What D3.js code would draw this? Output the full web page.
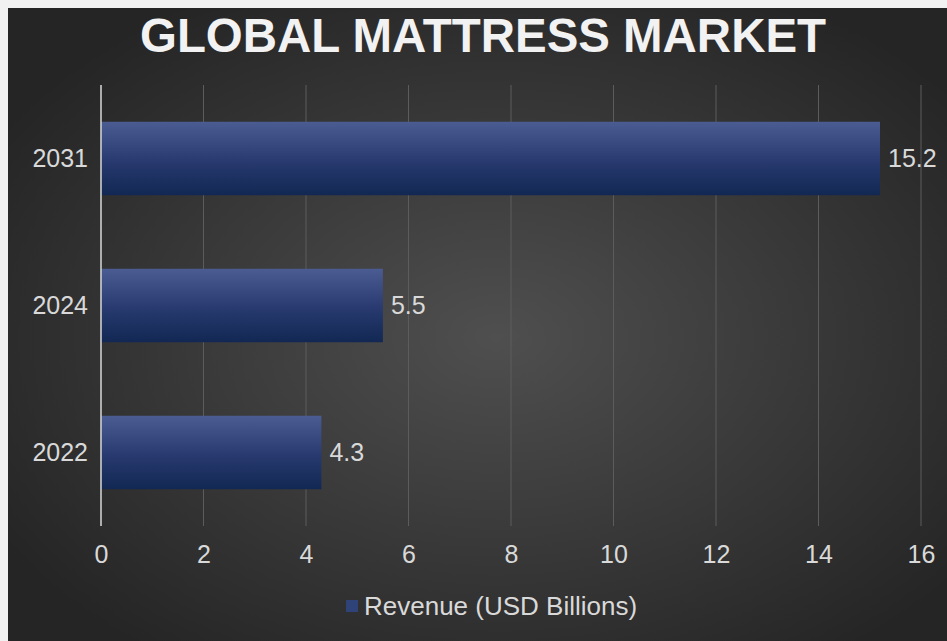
<!DOCTYPE html>
<html><head><meta charset="utf-8">
<script src="https://cdn.jsdelivr.net/npm/d3@7"></script>
<style>html,body{margin:0;padding:0;background:#f1f1f1;}svg{display:block;}</style>
</head><body>
<svg id="c" width="947" height="641"></svg>
<script>
const categories = ["2031", "2024", "2022"];
const revenue = [15.2, 5.5, 4.3];
const xTicks = [0, 2, 4, 6, 8, 10, 12, 14, 16];
const titleText = "GLOBAL MATTRESS MARKET";
const legendLabel = "Revenue (USD Billions)";

const svg = d3.select("#c");
const defs = svg.append("defs");
const bg = defs.append("radialGradient").attr("id","bg").attr("cx","52%").attr("cy","52%").attr("r","62%");
bg.append("stop").attr("offset","0%").attr("stop-color","#4f4f4f");
bg.append("stop").attr("offset","100%").attr("stop-color","#252525");
const bar = defs.append("linearGradient").attr("id","bar").attr("x1",0).attr("y1",0).attr("x2",0).attr("y2",1);
bar.append("stop").attr("offset","0%").attr("stop-color","#4b5c92");
bar.append("stop").attr("offset","55%").attr("stop-color","#27396e");
bar.append("stop").attr("offset","100%").attr("stop-color","#122853");

svg.append("rect").attr("x",8).attr("y",8).attr("width",939).attr("height",633).attr("fill","url(#bg)");

const x = d3.scaleLinear().domain([0,16]).range([101,921]);
const y = d3.scaleBand().domain(categories).range([85,526]).paddingInner(0.5).paddingOuter(0.25);

// gridlines
svg.append("g").selectAll("line").data(xTicks.slice(1)).join("line")
  .attr("x1",d=>x(d)).attr("x2",d=>x(d)).attr("y1",85).attr("y2",526)
  .attr("stroke","#5c5c5c").attr("stroke-width",1);

// bars
svg.append("g").selectAll("rect").data(categories).join("rect")
  .attr("x",x(0)).attr("y",d=>y(d)).attr("height",y.bandwidth())
  .attr("width",(d,i)=>x(revenue[i])-x(0)).attr("fill","url(#bar)");

// y axis line
svg.append("line").attr("x1",x(0)).attr("x2",x(0)).attr("y1",85).attr("y2",526)
  .attr("stroke","#d9d9d9").attr("stroke-width",1.5);

const font = "'Liberation Sans', Arial, sans-serif";
const fs = 25;
// x tick labels
const xa = svg.append("g").attr("transform","translate(0,554)")
  .call(d3.axisBottom(x).tickValues(xTicks).tickSize(0).tickPadding(0));
xa.select(".domain").remove();
xa.selectAll("text").attr("fill","#d9d9d9").attr("font-size",fs).attr("font-family",font).attr("dy","0.35em").attr("y",0);

// y labels
const ya = svg.append("g").attr("transform",`translate(${x(0)-13},0)`)
  .call(d3.axisLeft(y).tickSize(0).tickPadding(0));
ya.select(".domain").remove();
ya.selectAll("text").attr("fill","#d9d9d9").attr("font-size",fs).attr("font-family",font);

// value labels
svg.append("g").selectAll("text").data(categories).join("text")
  .attr("x",(d,i)=>x(revenue[i])+8).attr("y",d=>y(d)+y.bandwidth()/2)
  .attr("dy","0.35em").attr("fill","#d9d9d9").attr("font-size",fs).attr("font-family",font)
  .text((d,i)=>revenue[i]);

// title
svg.append("text").attr("x",483).attr("y",52).attr("text-anchor","middle")
  .attr("fill","#f2f2f2").attr("font-size",48).attr("font-weight","bold").attr("font-family",font)
  .attr("textLength",686).attr("lengthAdjust","spacingAndGlyphs").text(titleText);

// legend
svg.append("rect").attr("x",346).attr("y",600).attr("width",12).attr("height",12).attr("fill","#2f4379");
svg.append("text").attr("x",364).attr("y",606).attr("dy","0.35em").attr("fill","#d9d9d9")
  .attr("font-size",26).attr("font-family",font).text(legendLabel);
</script>
</body></html>
